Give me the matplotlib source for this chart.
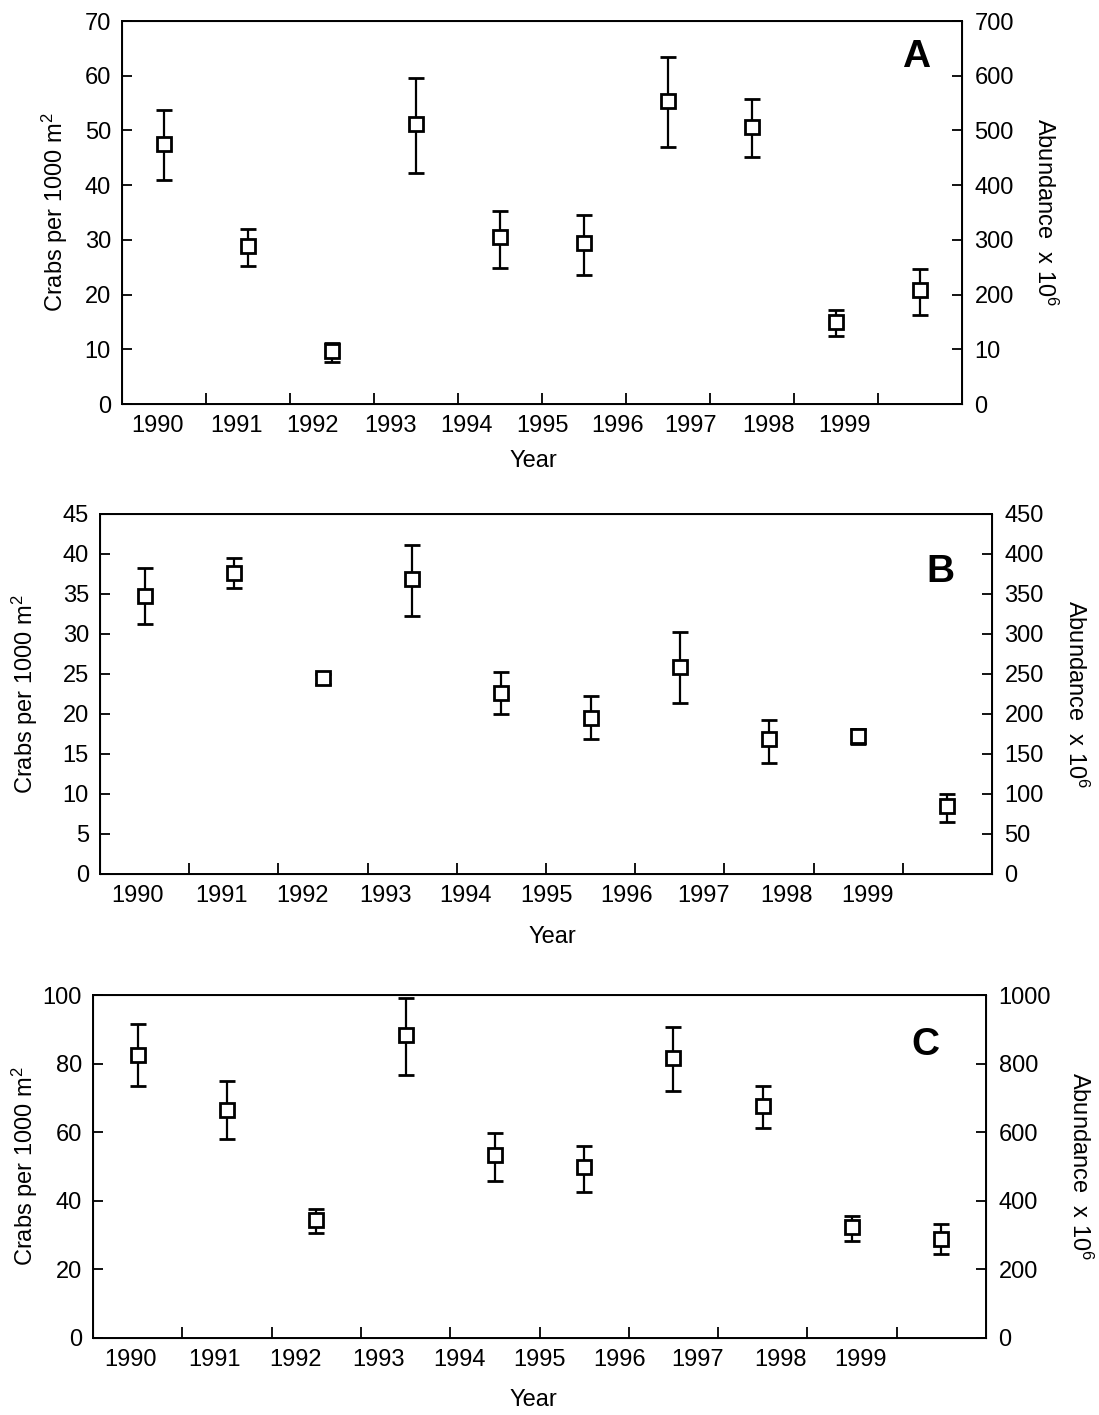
import matplotlib
matplotlib.use("Agg")
import matplotlib.pyplot as plt

plt.rcParams["font.family"] = ["Liberation Sans", "DejaVu Sans"]
plt.rcParams["mathtext.default"] = "regular"

W, H = 1099, 1415

years = ["1990", "1991", "1992", "1993", "1994", "1995", "1996", "1997", "1998", "1999"]
year_label_pos = [0.42, 1.36, 2.27, 3.2, 4.1, 5.0, 5.9, 6.77, 7.7, 8.6]
point_pos = [0.5, 1.5, 2.5, 3.5, 4.5, 5.5, 6.5, 7.5, 8.5, 9.5]

# panel A
a_mean = [47.6, 28.8, 9.6, 51.2, 30.5, 29.5, 55.4, 50.6, 14.9, 20.9]
a_lo = [41.0, 25.3, 7.7, 42.3, 24.9, 23.5, 47.0, 45.1, 12.4, 16.3]
a_hi = [53.7, 32.0, 11.1, 59.6, 35.2, 34.6, 63.5, 55.7, 17.1, 24.7]
a_right_labels = ["0", "10", "200", "300", "400", "500", "600", "700"]

# panel B
b_mean = [34.8, 37.6, 24.5, 36.9, 22.6, 19.5, 25.9, 16.9, 17.2, 8.5]
b_lo = [31.2, 35.7, 23.7, 32.2, 20.0, 16.9, 21.4, 13.9, 16.3, 6.5]
b_hi = [38.3, 39.5, 25.0, 41.1, 25.2, 22.3, 30.3, 19.3, 18.1, 10.0]
b_right_labels = ["0", "50", "100", "150", "200", "250", "300", "350", "400", "450"]

# panel C
c_mean = [82.5, 66.5, 34.5, 88.3, 53.4, 50.0, 81.6, 67.5, 32.5, 28.9]
c_lo = [73.5, 58.0, 30.6, 76.8, 45.9, 42.5, 72.0, 61.2, 28.2, 24.5]
c_hi = [91.5, 75.0, 37.6, 99.0, 59.7, 56.1, 90.8, 73.6, 35.6, 33.2]
c_right_labels = ["0", "200", "400", "600", "800", "1000"]

FS = 17


def panel(fig, box, mean, lo, hi, ymax, right_labels, letter, letter_xy,
          ylab_x, rlab_x, year_xy):
    left, top, right, bottom = box
    w, h = right - left, bottom - top
    ax = fig.add_axes([left / W, 1 - bottom / H, w / W, h / H])
    yerr = [[m - l for m, l in zip(mean, lo)], [hh - m for m, hh in zip(mean, hi)]]
    ax.errorbar(point_pos, mean, yerr=yerr, fmt="s", mfc="white", mec="black",
                mew=2.0, ms=10, color="black", elinewidth=1.6, capsize=6, capthick=1.6)
    ax.set_xlim(0, 10)
    ax.set_ylim(0, ymax)
    ax.xaxis.remove_overlapping_locs = False
    ax.set_xticks(range(1, 10))
    ax.set_xticklabels([])
    ax.set_xticks(year_label_pos, minor=True)
    ax.set_xticklabels(years, minor=True)
    ax.tick_params(axis="x", which="minor", length=0, pad=8, labelsize=FS)
    ax.tick_params(axis="x", which="major", direction="in", length=8, width=1.3)
    ystep = ymax // (len(right_labels) - 1)
    ax.set_yticks(list(range(0, ymax + 1, ystep)))
    ax.tick_params(axis="y", direction="in", length=7, width=1.3, labelsize=FS, pad=8)
    for s in ax.spines.values():
        s.set_linewidth(1.4)
    ax.set_xlabel("Year", fontsize=FS, va="center")
    ax.xaxis.set_label_coords((year_xy[0] - left) / w, (bottom - year_xy[1]) / h)
    ax.set_ylabel("Crabs per 1000 m$^2$", fontsize=FS, va="center")
    ax.yaxis.set_label_coords((ylab_x - left) / w, 0.5)

    ax2 = ax.twinx()
    ax2.set_ylim(0, ymax * 10)
    ax2.set_yticks(list(range(0, ymax * 10 + 1, ystep * 10)))
    ax2.set_yticklabels(right_labels)
    ax2.tick_params(axis="y", direction="in", length=7, width=1.3, labelsize=FS, pad=9)
    ax2.set_ylabel("Abundance  x 10$^6$", fontsize=FS, rotation=270, va="center")
    ax2.yaxis.set_label_coords((rlab_x - left) / w, 0.5)

    fig.text(letter_xy[0] / W, 1 - letter_xy[1] / H, letter, fontsize=28,
             fontweight="bold", ha="center", va="center")
    return ax


fig = plt.figure(figsize=(W / 100, H / 100), dpi=100)
panel(fig, (122, 21, 962, 404), a_mean, a_lo, a_hi, 70, a_right_labels, "A", (916, 57),
      55, 1045, (533, 461))
panel(fig, (100, 514, 992, 874), b_mean, b_lo, b_hi, 45, b_right_labels, "B", (940, 572),
      25, 1076, (552, 937))
panel(fig, (93, 995, 986, 1338), c_mean, c_lo, c_hi, 100, c_right_labels, "C", (925, 1045),
      25, 1080, (533, 1400))
fig.savefig("out.png", dpi=100)
